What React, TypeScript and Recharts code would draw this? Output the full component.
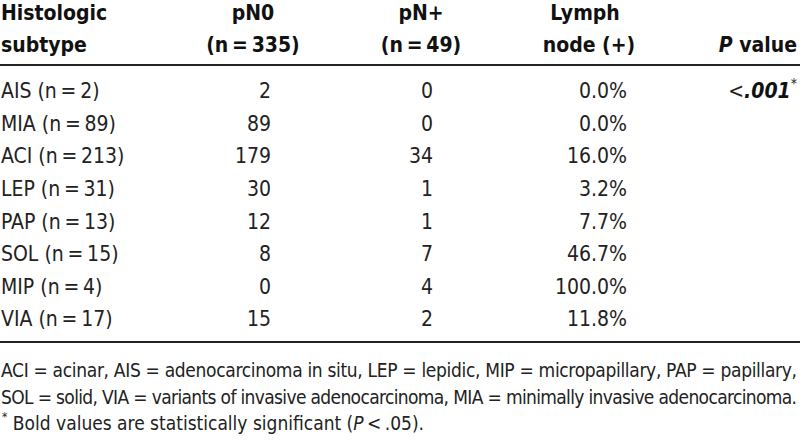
import React from 'react';
import { BarChart, Bar, XAxis, YAxis, LabelList, Customized } from 'recharts';

// ---- data ----
const subtypes = ['AIS', 'MIA', 'ACI', 'LEP', 'PAP', 'SOL', 'MIP', 'VIA'];
const subtypeN = [2, 89, 213, 31, 13, 15, 4, 17];
const pN0Counts = [2, 89, 179, 30, 12, 8, 0, 15];
const pNplusCounts = [0, 0, 34, 1, 1, 7, 4, 2];
const lymphPositivePct = [0.0, 0.0, 16.0, 3.2, 7.7, 46.7, 100.0, 11.8];
const pValues = ['<.001', '', '', '', '', '', '', ''];
const totalPN0 = 335;
const totalPNplus = 49;
const footnoteLines = [
  'ACI = acinar, AIS = adenocarcinoma in situ, LEP = lepidic, MIP = micropapillary, PAP = papillary,',
  'SOL = solid, VIA = variants of invasive adenocarcinoma, MIA = minimally invasive adenocarcinoma.',
];
const significanceNote = ['Bold values are statistically significant (', 'P', '\u2009<\u2009.05).'];

const rows = subtypes.map((s, i) => ({
  subtype: s,
  label: `${s} (n\u2009=\u2009${subtypeN[i]})`,
  n: subtypeN[i],
  pN0: pN0Counts[i],
  pNplus: pNplusCounts[i],
  pct: lymphPositivePct[i],
  p: pValues[i],
}));

// ---- style ----
const FONT = "'DejaVu Sans Condensed', 'Liberation Sans Narrow', sans-serif";
const BODY = '#222';
const FS = 21;
const FOOT_FS = 19;

const COL_LABEL_X = 1;
const COL_PN0_X = 271;
const COL_PNPLUS_X = 433;
const COL_PCT_X = 627;
const COL_P_X = 797;

const cell = (x: number, anchor: 'start' | 'end', fmt: (v: any) => string) => (props: any) => {
  const { y, height, value } = props;
  if (value === '' || value === undefined || value === null) return null;
  const cy = Number(y) + Number(height) / 2;
  return (
    <text x={x} y={cy} dy="0.36em" textAnchor={anchor} fill={BODY} fontFamily={FONT} fontSize={FS}>
      {fmt(value)}
    </text>
  );
};

const pCell = (props: any) => {
  const { y, height, value } = props;
  if (!value) return null;
  const cy = Number(y) + Number(height) / 2;
  const s = String(value);
  const lt = s.startsWith('<') ? '<' : '';
  const num = lt ? s.slice(1) : s;
  return (
    <text x={COL_P_X} y={cy} dy="0.36em" textAnchor="end" fill={BODY} fontFamily={FONT} fontSize={FS}>
      <tspan>{lt}</tspan>
      <tspan fontWeight="bold" fontStyle="italic" fill="#111">{num}</tspan>
      <tspan dy={-10} fontSize={14}>*</tspan>
    </text>
  );
};

const Decor = () => {
  const hdr = { fontFamily: FONT, fontSize: FS, fontWeight: 'bold' as const, fill: '#111' };
  const y1 = 20;
  const y2 = 52;
  return (
    <g>
      <text x={1} y={y1} {...hdr}>Histologic</text>
      <text x={1} y={y2} {...hdr}>subtype</text>
      <text x={253} y={y1} textAnchor="middle" {...hdr}>pN0</text>
      <text x={253} y={y2} textAnchor="middle" {...hdr}>{`(n\u2009=\u2009${totalPN0})`}</text>
      <text x={421} y={y1} textAnchor="middle" {...hdr}>pN+</text>
      <text x={421} y={y2} textAnchor="middle" {...hdr}>{`(n\u2009=\u2009${totalPNplus})`}</text>
      <text x={585} y={y1} textAnchor="middle" {...hdr}>Lymph</text>
      <text x={589} y={y2} textAnchor="middle" {...hdr}>node (+)</text>
      <text x={COL_P_X} y={y2} textAnchor="end" {...hdr}>
        <tspan fontStyle="italic">P</tspan>
        <tspan> value</tspan>
      </text>
      <line x1={0} x2={800} y1={65} y2={65} stroke="#222" strokeWidth={2} />
      <line x1={0} x2={800} y1={342} y2={342} stroke="#222" strokeWidth={2} />
      {footnoteLines.map((t, i) => (
        <text
          key={i}
          x={1}
          y={377 + i * 26.5}
          textLength={796}
          lengthAdjust="spacing"
          fontFamily={FONT}
          fontSize={FOOT_FS}
          fill={BODY}
        >
          {t}
        </text>
      ))}
      <text x={2} y={430} fontFamily={FONT} fontSize={FOOT_FS} fill={BODY}>
        <tspan fontSize={12} dy={-9}>*</tspan>
        <tspan dy={9}>{' ' + significanceNote[0]}</tspan>
        <tspan fontStyle="italic">{significanceNote[1]}</tspan>
        <tspan>{significanceNote[2]}</tspan>
      </text>
    </g>
  );
};

export default function App() {
  return (
    <div style={{ position: 'absolute', left: 0, top: 0, background: '#fff' }}>
      <BarChart
        width={800}
        height={440}
        data={rows}
        layout="vertical"
        margin={{ top: 74, right: 0, bottom: 105, left: 0 }}
        barCategoryGap={0}
      >
        <XAxis type="number" hide domain={[0, 'dataMax']} />
        <YAxis type="category" dataKey="subtype" hide />
        <Bar dataKey="n" fill="transparent" isAnimationActive={false}>
          <LabelList dataKey="label" content={cell(COL_LABEL_X, 'start', (v) => String(v))} />
          <LabelList dataKey="pN0" content={cell(COL_PN0_X, 'end', (v) => String(v))} />
          <LabelList dataKey="pNplus" content={cell(COL_PNPLUS_X, 'end', (v) => String(v))} />
          <LabelList dataKey="pct" content={cell(COL_PCT_X, 'end', (v) => `${Number(v).toFixed(1)}%`)} />
          <LabelList dataKey="p" content={pCell} />
        </Bar>
        <Customized component={Decor} />
      </BarChart>
    </div>
  );
}
